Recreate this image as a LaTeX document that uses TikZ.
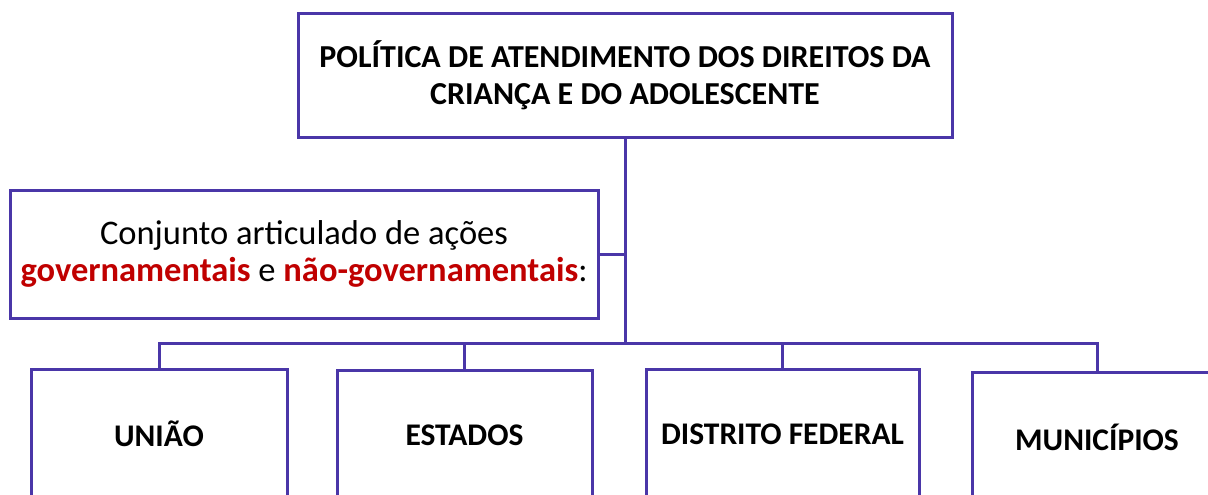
\documentclass[tikz,border=0pt]{standalone}
\usepackage{fontspec}
\setmainfont{Carlito}
\usepackage{tikz}
\definecolor{roxo}{HTML}{4A36A8}
\definecolor{vermelho}{HTML}{C00000}

\begin{document}
\begin{tikzpicture}[x=1pt,y=-1pt]
	\tikzstyle{caixa}=[draw=roxo, line width=3pt, fill=white, align=center, inner sep=0pt]
	\tikzstyle{ente}=[caixa, minimum height=130pt, font=\fontsize{31.5}{36}\selectfont\bfseries]
	\useasboundingbox (0,0) rectangle (1208,495);
	\node [caixa, minimum width=654pt, minimum height=123pt, font=\fontsize{32}{37}\selectfont\bfseries] (politica) at (625,75.5)
		{POLÍTICA DE ATENDIMENTO DOS DIREITOS DA\\CRIANÇA E DO ADOLESCENTE};
	\node [caixa, minimum width=588pt, minimum height=128pt, font=\fontsize{34.5}{37}\selectfont] (conjunto) at (304,254)
		{Conjunto articulado de ações\\\textbf{\color{vermelho}governamentais} e \textbf{\color{vermelho}não-governamentais}:};
	\node [ente, minimum width=256pt] (uniao) at (159,434) {UNIÃO};
	\node [ente, minimum width=255pt] (estados) at (464.5,435) {ESTADOS};
	\node [ente, minimum width=273pt] (df) at (782.5,434) {DISTRITO FEDERAL};
	\node [ente, minimum width=250pt] (municipios) at (1097,437) {MUNICÍPIOS};
	\coordinate (juncao) at (625,343);
	% ligacoes
	\draw [roxo, line width=3pt] (politica.south) -- (juncao);
	\draw [roxo, line width=3pt] (conjunto.east) -- (conjunto.east -| juncao);
	\draw [roxo, line width=3pt] (uniao.north) |- (juncao) -| (municipios.north);
	\draw [roxo, line width=3pt] (estados.north) -- (estados.north |- juncao);
	\draw [roxo, line width=3pt] (df.north) -- (df.north |- juncao);
\end{tikzpicture}
\end{document}
